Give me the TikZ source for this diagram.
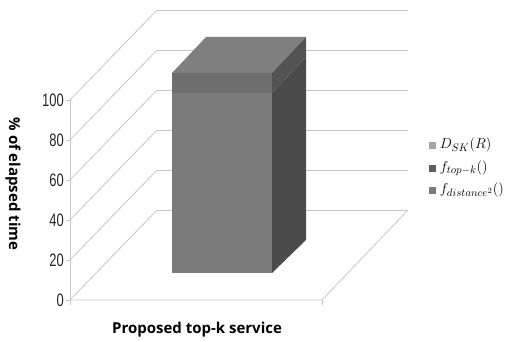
\documentclass[tikz,border=0pt]{standalone}
\usepackage{fontspec}
\DeclareMathSizes{14}{14}{11}{8}
\newfontfamily\numfont[FakeStretch=0.72]{Liberation Sans}
\newfontfamily\labfont{Open Sans}
\begin{document}
\begin{tikzpicture}[x=1pt,y=-1pt,
  grid/.style={draw=black!22,line width=0.8pt},
  ticklab/.style={anchor=east,inner sep=0pt,font=\numfont\fontsize{18}{18}\selectfont,text=black!85},
  axislab/.style={inner sep=0pt,font=\labfont\bfseries\fontsize{15}{16}\selectfont},
  legbox/.style={minimum size=7pt,inner sep=0pt},
  legtext/.style={anchor=west,inner sep=0pt,font=\fontsize{14}{14}\selectfont}]
\definecolor{frontc}{HTML}{7A7A7A}
\definecolor{frontband}{HTML}{6E6E6E}
\definecolor{topc}{HTML}{7F7F7F}
\definecolor{sidec}{HTML}{4B4B4B}
\definecolor{sideband}{HTML}{535353}
\definecolor{legA}{HTML}{A6A6A6}
\definecolor{legB}{HTML}{5E5E5E}
\definecolor{legC}{HTML}{7B7B7B}
\useasboundingbox (0,0) rectangle (511,342);
% back wall and left wall gridlines
\foreach \k in {0,...,5}{
  \draw[grid] (157,210-40*\k) -- (408,210-40*\k);
  \draw[grid] (70,300-40*\k) -- (157,210-40*\k);
  \draw[grid] (66,300-40*\k) -- (70,300-40*\k);
}
% front axis and floor
\draw[grid] (70,100) -- (70,305);
\draw[grid] (70,300) -- (322,300) -- (408,210);
\draw[grid] (322,300) -- (322,305);
% tick labels
\foreach \v [count=\i from 0] in {0,20,40,60,80,100}
  \node[ticklab] (t\v) at (64,300-40*\i) {\v};
% the 3D bar
\fill[frontc] (172,93) rectangle (272,273);
\fill[frontband] (172,73) rectangle (272,93);
\fill[topc] (172,73) -- (206,37) -- (306,37) -- (272,73) -- cycle;
\fill[sidec] (272,93) -- (306,57) -- (306,240) -- (272,273) -- cycle;
\fill[sideband] (272,73) -- (306,37) -- (306,57) -- (272,93) -- cycle;
% axis titles
\node[axislab,rotate=-90] (ylab) at (13,184) {\% of elapsed time};
\node[axislab] (xlab) at (197,330) {Proposed top-k service};
% legend
\node[legbox,fill=legA] (la) at (432,145) {};
\node[legbox,fill=legB] (lb) at (432,168) {};
\node[legbox,fill=legC] (lc) at (432,190) {};
\node[legtext] (ta) at ([xshift=4pt]la.east) {$D_{SK}(R)$};
\node[legtext] (tb) at ([xshift=4pt]lb.east) {$f_{top-k}()$};
\node[legtext] (tc) at ([xshift=4pt]lc.east) {$f_{distance^2}()$};
\end{tikzpicture}
\end{document}
